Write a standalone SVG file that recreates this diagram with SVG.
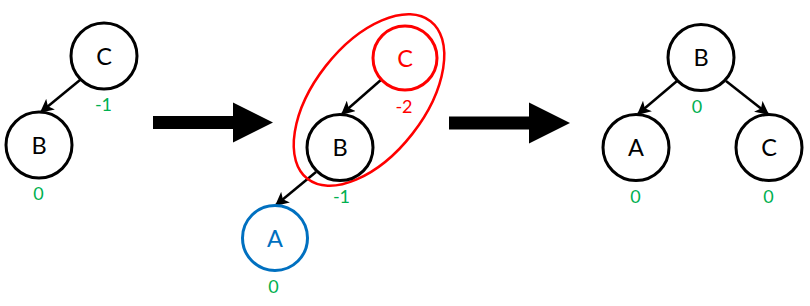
<svg xmlns="http://www.w3.org/2000/svg" width="810" height="306" viewBox="0 0 810 306">
<style>
.n{fill:#fff;stroke:#000;stroke-width:3}
.l{font-family:Lato,"Open Sans","Liberation Sans",sans-serif;font-size:23.5px;text-anchor:middle;fill:#000}
.v{font-family:Lato,"Open Sans","Liberation Sans",sans-serif;font-size:18px;text-anchor:middle;fill:#00B050}
.e{stroke:#000;stroke-width:2.5;fill:none;marker-end:url(#ah)}
</style>
<defs>
<marker id="ah" viewBox="0 0 10 10" refX="9" refY="5" markerWidth="5.5" markerHeight="5.5" orient="auto" markerUnits="strokeWidth">
<path d="M0,0 L10,5 L0,10 L2.5,5 z" fill="#000"/>
</marker>
</defs>
<g id="connectors">
<line class="e" x1="80" y1="80" x2="41" y2="112"/>
<line class="e" x1="382" y1="79" x2="342" y2="114"/>
<line class="e" x1="316" y1="172" x2="276" y2="205"/>
<line class="e" x1="677" y1="81" x2="638" y2="114"/>
<line class="e" x1="726" y1="81" x2="768" y2="114"/>
</g>
<g id="arrow1"><path d="M153,116 H233 V102.5 L273,122.5 L233,142.5 V129 H153 z" fill="#000"/></g>
<g id="arrow2"><path d="M449,116.5 H529 V102.5 L570,123 L529,143.5 V129.5 H449 z" fill="#000"/></g>
<g id="group-ellipse"><ellipse cx="369" cy="100" rx="100" ry="55" transform="rotate(-52 369 100)" fill="none" stroke="#FF0000" stroke-width="2.5"/></g>
<g id="L-C"><circle class="n" cx="104" cy="56" r="33"/><text class="l" x="104" y="64.5">C</text><text class="v" x="103.5" y="111">-1</text></g>
<g id="L-B"><circle class="n" cx="39" cy="145" r="33"/><text class="l" x="39" y="153.5">B</text><text class="v" x="38.5" y="200">0</text></g>
<g id="M-C"><circle class="n" cx="405" cy="58" r="32" style="stroke:#FF0000"/><text class="l" x="405" y="66.5" style="fill:#FF0000">C</text><text class="v" x="404" y="113" style="fill:#FF0000">-2</text></g>
<g id="M-B"><circle class="n" cx="340" cy="147.5" r="33"/><text class="l" x="340" y="156">B</text><text class="v" x="341.5" y="203">-1</text></g>
<g id="M-A"><circle class="n" cx="275" cy="238" r="32.5" style="stroke:#0070C0"/><text class="l" x="275" y="246.5" style="fill:#0070C0">A</text><text class="v" x="273.5" y="293">0</text></g>
<g id="R-B"><circle class="n" cx="701" cy="57.5" r="33"/><text class="l" x="701" y="66">B</text><text class="v" x="697" y="112.5">0</text></g>
<g id="R-A"><circle class="n" cx="636" cy="147.5" r="33"/><text class="l" x="636" y="156">A</text><text class="v" x="635.5" y="202.5">0</text></g>
<g id="R-C"><circle class="n" cx="769" cy="147.5" r="33"/><text class="l" x="769" y="156">C</text><text class="v" x="768.5" y="202.5">0</text></g>
</svg>
